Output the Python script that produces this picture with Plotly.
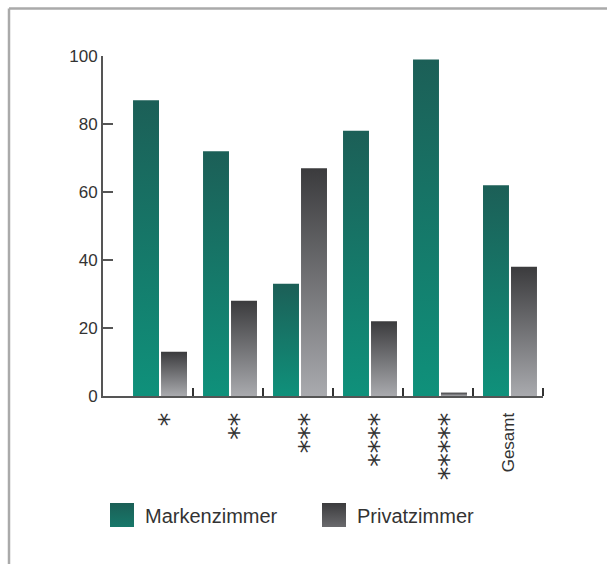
import base64
import plotly.graph_objects as go

# ---- data ----
categories = ["*", "**", "***", "****", "*****", "Gesamt"]
markenzimmer = [87, 72, 33, 78, 99, 62]
privatzimmer = [13, 28, 67, 22, 1, 38]
y_ticks = [0, 20, 40, 60, 80, 100]
series_names = ["Markenzimmer", "Privatzimmer"]

# ---- style ----
GREEN_TOP, GREEN_BOT = "#1c5f57", "#0f917b"
GRAY_TOP, GRAY_BOT = "#3b3b3d", "#a9aaae"
FONT = "Liberation Sans"
TXT = "#333333"
AX = "#555555"

W, H = 607, 564
L, R, T, B = 103, 64, 56, 168
PW, PH = W - L - R, H - T - B


def px2x(px):
    return (px - L) / PW


def py2y(py):
    return (H - B - py) / PH


fig = go.Figure()

# bar geometry in category units
offsets = {
    0: (-0.357, 0.014),
    1: (0.043, 0.414),
}
series = [markenzimmer, privatzimmer]
grads = [(GREEN_BOT, GREEN_TOP), (GRAY_BOT, GRAY_TOP)]
for s, vals in enumerate(series):
    a, b = offsets[s]
    for i, v in enumerate(vals):
        x0, x1 = i + a, i + b
        fig.add_trace(go.Scatter(
            x=[x0, x0, x1, x1, x0],
            y=[0, v, v, 0, 0],
            mode="lines",
            line=dict(width=0, color=grads[s][1]),
            fill="toself",
            fillgradient=dict(type="vertical",
                              colorscale=[[0, grads[s][0]], [1, grads[s][1]]]),
            showlegend=False,
            hoverinfo="skip",
        ))


def grad_svg(top, bot):
    svg = (
        '<svg xmlns="http://www.w3.org/2000/svg" width="24" height="24">'
        '<defs><linearGradient id="g" x1="0" y1="0" x2="0" y2="1">'
        f'<stop offset="0" stop-color="{top}"/><stop offset="1" stop-color="{bot}"/>'
        '</linearGradient></defs><rect width="24" height="24" fill="url(#g)"/></svg>'
    )
    return "data:image/svg+xml;base64," + base64.b64encode(svg.encode()).decode()


legend_colors = [("#1b5f56", "#17786a"), ("#3b3b3d", "#6a6a6d")]
legend_px = [110, 322]
images = []
annotations = []
for name, (top, bot), lx in zip(series_names, legend_colors, legend_px):
    images.append(dict(
        source=grad_svg(top, bot), xref="paper", yref="paper",
        x=px2x(lx), y=py2y(503), sizex=24 / PW, sizey=24 / PH,
        xanchor="left", yanchor="top", sizing="stretch", layer="above",
    ))
    annotations.append(dict(
        text=name, xref="paper", yref="paper", x=px2x(lx + 33), y=py2y(516),
        xanchor="left", yanchor="middle", showarrow=False,
        font=dict(family=FONT, size=20, color=TXT),
    ))

ticktext = []
for c in categories:
    if c.startswith("*"):
        ticktext.append(
            '<span style="font-family:DejaVu Sans;font-size:27px;'
            f'baseline-shift:-0.5em">{c}</span>')
    else:
        ticktext.append(c)

frame_color = "#aaaaaa"
shapes = [
    dict(type="line", xref="paper", yref="paper",
         x0=px2x(9), x1=px2x(620), y0=py2y(8.5), y1=py2y(8.5),
         line=dict(color=frame_color, width=2.5)),
    dict(type="line", xref="paper", yref="paper",
         x0=px2x(9), x1=px2x(9), y0=py2y(8.5), y1=py2y(580),
         line=dict(color=frame_color, width=2.5)),
]

fig.update_layout(
    width=W, height=H,
    margin=dict(l=L, r=R, t=T, b=B),
    paper_bgcolor="white", plot_bgcolor="white",
    font=dict(family=FONT, color=TXT),
    showlegend=False,
    images=images,
    annotations=annotations,
    shapes=shapes,
    xaxis=dict(
        range=[-0.786, 5.5], tickmode="array",
        tickvals=list(range(len(categories))), ticktext=ticktext,
        tickangle=-90, ticks="", showgrid=False, zeroline=False,
        showline=True, linecolor=AX, linewidth=2,
        tickfont=dict(family=FONT, size=17, color=TXT),
        ticklabelstandoff=8,
        minor=dict(tickmode="array",
                   tickvals=[i + 0.5 for i in range(len(categories))],
                   ticks="inside", ticklen=8, tickwidth=2, tickcolor="#333333",
                   showgrid=False),
        fixedrange=True,
    ),
    yaxis=dict(
        range=[0, 100], tickmode="array", tickvals=y_ticks,
        ticks="inside", ticklen=10, tickwidth=2, tickcolor=AX,
        showline=True, linecolor=AX, linewidth=2,
        showgrid=False, zeroline=False,
        tickfont=dict(family=FONT, size=17, color=TXT),
        fixedrange=True,
    ),
)

fig.write_html("out.html")
